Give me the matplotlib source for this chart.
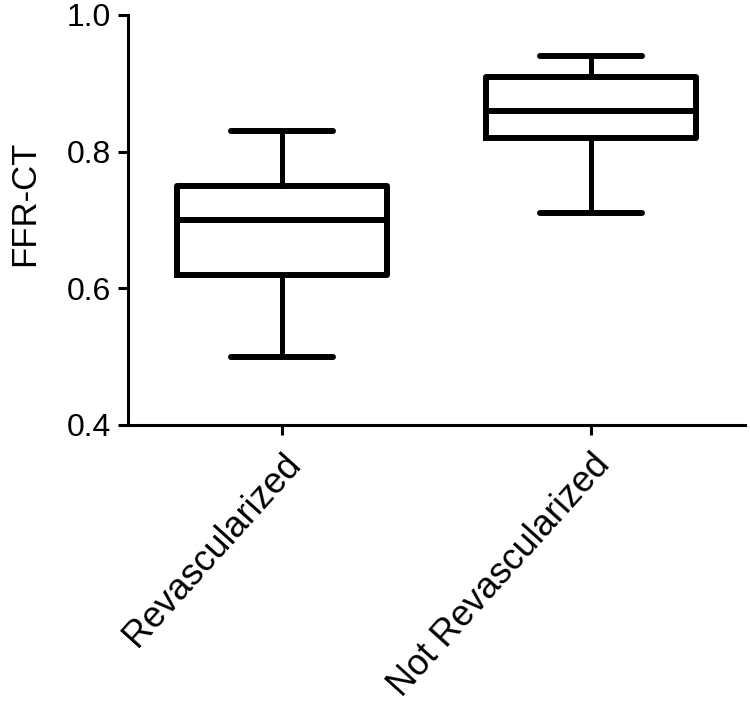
import matplotlib
matplotlib.use("Agg")
import matplotlib.pyplot as plt

categories = ["Revascularized", "Not Revascularized"]
whislo = [0.50, 0.71]
q1 = [0.62, 0.82]
med = [0.70, 0.86]
q3 = [0.75, 0.91]
whishi = [0.83, 0.94]
yticks = [0.4, 0.6, 0.8, 1.0]

plt.rcParams['font.family'] = ['Liberation Sans', 'DejaVu Sans']

fig = plt.figure(figsize=(7.5, 7.13), dpi=100)
ax = fig.add_axes([128/750, 1-425/713, (745-128)/750, (425-15)/713])

stats = []
for i, c in enumerate(categories):
    stats.append(dict(label=c, whislo=whislo[i], q1=q1[i], med=med[i],
                      q3=q3[i], whishi=whishi[i], fliers=[]))

lw = 4.3
ax.bxp(stats, positions=[1, 2], widths=0.68, showfliers=False,
       boxprops=dict(color='black', linewidth=lw),
       medianprops=dict(color='black', linewidth=lw, solid_capstyle='butt'),
       whiskerprops=dict(color='black', linewidth=3.6),
       capprops=dict(color='black', linewidth=lw, solid_capstyle='round'),
       capwidths=0.33)

ax.set_xlim(0.5, 2.5)
ax.set_ylim(0.4, 1.0)
ax.set_yticks(yticks)
ax.set_yticklabels([f"{v:.1f}" for v in yticks])
ax.set_xticks([1, 2])
ax.set_xticklabels(categories, rotation=48, ha='right', rotation_mode='anchor')

for s in ['top', 'right']:
    ax.spines[s].set_visible(False)
for s in ['left', 'bottom']:
    ax.spines[s].set_linewidth(2.2)

ax.tick_params(axis='both', direction='out', length=7, width=2.2)
ax.tick_params(axis='y', labelsize=23, pad=5)
ax.tick_params(axis='x', labelsize=26, pad=9)
ax.set_ylabel("FFR-CT", fontsize=25)
ax.yaxis.set_label_coords(-0.140, 0.54)

fig.savefig("out.png", dpi=100)
